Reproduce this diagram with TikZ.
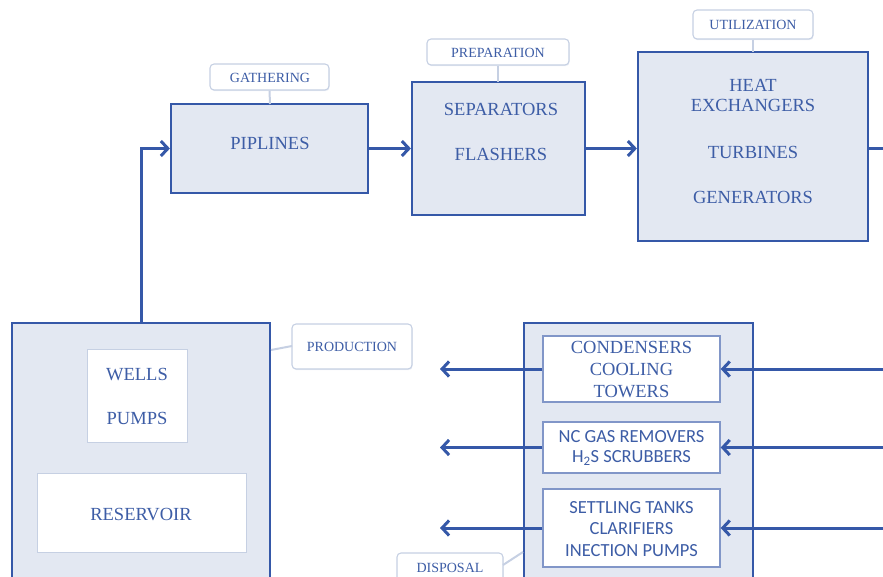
\documentclass[tikz,border=0pt]{standalone}
\usepackage{fontspec}
\setmainfont{Liberation Serif}
\newfontfamily\calib{Carlito}
\usetikzlibrary{arrows.meta,fit,shadows}
\definecolor{lc}{HTML}{3558A8}
\definecolor{fc}{HTML}{E3E8F2}
\definecolor{tc}{HTML}{3D5DA6}
\definecolor{tagc}{HTML}{C6D0E3}
\definecolor{ibc}{HTML}{8196C8}
\begin{document}
\begin{tikzpicture}[x=1pt,y=-1pt,
  box/.style={draw=lc,line width=2.2pt,fill=fc,inner sep=0pt,rectangle},
  wbox/.style={draw=tagc,line width=1pt,fill=white,inner sep=0pt,rectangle,
    drop shadow={shadow xshift=0.6pt,shadow yshift=-1.2pt,opacity=0.35,fill=tagc}},
  ibox/.style={draw=ibc,line width=1.4pt,fill=white,inner sep=0pt,rectangle},
  tagbox/.style={draw=tagc,line width=1.1pt,fill=white,rounded corners=4pt,inner sep=0pt,
    drop shadow={shadow xshift=0.6pt,shadow yshift=-1.2pt,opacity=0.35,fill=tagc}},
  tagtxt/.style={text=tc,font=\fontsize{14}{16}\selectfont,inner sep=0pt},
  lbl/.style={text=tc,font=\fontsize{18.5}{21}\selectfont,align=center,inner sep=0pt},
  slbl/.style={text=tc,align=center,inner sep=0pt},
  flow/.style={draw=lc,line width=3pt,-{Straight Barb[length=7pt,width=15pt,line width=3pt]}},
  plain/.style={draw=lc,line width=3pt},
  tagline/.style={draw=tagc,line width=2pt}]
\useasboundingbox (0,0) rectangle (883,577);
\clip (0,0) rectangle (883,577);

% main boxes
\node[box,fit={(171,104) (368,193)}] (pip) {};
\node[box,fit={(412,82) (585,215)}] (sep) {};
\node[box,fit={(638,52) (868,241)}] (util) {};
\node[box,fit={(12,323) (270,610)}] (prod) {};
\node[box,fit={(524,323) (753,610)}] (disp) {};

% tags
\node[tagbox,fit={(210,64) (329,90)}] (gat) {};
\node[tagtxt] (gatt) at (270,78) {GATHERING};
\node[tagbox,fit={(427,39) (569,65)}] (prep) {};
\node[tagtxt] (prept) at (498,53) {PREPARATION};
\node[tagbox,fit={(693,10) (813,39)}] (utag) {};
\node[tagtxt] (utagt) at (753,25) {UTILIZATION};
\node[tagbox,fit={(292,324) (412,369)}] (ptag) {};
\node[tagtxt] (ptagt) at (352,347) {PRODUCTION};
\node[tagbox,fit={(397,553) (503,600)}] (dtag) {};
\node[tagtxt] (dtagt) at (450,568) {DISPOSAL};

% tag connectors
\coordinate (gatb) at (270,104);
\draw[tagline] (gat.south) -- (gatb);
\coordinate (prepb) at (498,82);
\draw[tagline] (prep.south) -- (prepb);
\coordinate (utagb) at (753,52);
\draw[tagline] (utag.south) -- (utagb);
\coordinate (pc) at (271,350);
\coordinate (pt) at (292,346);
\draw[tagline] (pc) -- (pt);
\coordinate (dc) at (523,552);
\coordinate (dt) at (503,565);
\draw[tagline] (dt) -- (dc);

% texts in top boxes
\node[lbl] (pipt) at (270,143) {PIPLINES};
\node[lbl] (sept1) at (501,109) {SEPARATORS};
\node[lbl] (sept2) at (501,154) {FLASHERS};
\node[lbl] (ut1) at (753,85) {HEAT};
\node[lbl] (ut2) at (753,105) {EXCHANGERS};
\node[lbl] (ut3) at (753,152) {TURBINES};
\node[lbl] (ut4) at (753,197) {GENERATORS};

% production inner boxes
\node[wbox,fit={(87,349) (187,442)}] (wells) {};
\node[lbl] (wellst) at (137,375) {WELLS};
\node[lbl] (pumpst) at (137,418) {PUMPS};
\node[wbox,fit={(37,473) (246,552)}] (res) {};
\node[lbl] (rest) at (141,515) {RESERVOIR};

% disposal inner boxes
\node[ibox,fit={(543,336) (720,402)}] (d1) {};
\node[lbl,font=\fontsize{18.5}{22}\selectfont] (d1t) at (631.5,370) {CONDENSERS\\COOLING\\TOWERS};
\node[ibox,fit={(543,422) (720,473)}] (d2) {};
\node[slbl,font=\calib\fontsize{18.5}{20}\selectfont] (d2t) at (631.5,448) {NC GAS REMOVERS\\H\textsubscript{2}S SCRUBBERS};
\node[ibox,fit={(543,489) (720,567)}] (d3) {};
\node[slbl,font=\calib\fontsize{18.5}{21.5}\selectfont] (d3t) at (631.5,529) {SETTLING TANKS\\CLARIFIERS\\INECTION PUMPS};

% flows
\draw[flow] (prod.north) |- (pip.west);
\draw[flow] (pip.east) -- (sep.west);
\draw[flow] (sep.east) -- (sep.east -| util.west);
\coordinate (rt) at (883,149);
\draw[plain] (util.east |- rt) -- (rt);

\coordinate (l1) at (440,369);
\coordinate (l2) at (440,447.5);
\coordinate (l3) at (440,528);
\coordinate (r1) at (885,369);
\coordinate (r2) at (885,447.5);
\coordinate (r3) at (885,528);
\draw[flow] (d1.west) -- (l1);
\draw[flow] (d2.west) -- (l2);
\draw[flow] (d3.west) -- (l3);
\draw[flow] (r1) -- (d1.east);
\draw[flow] (r2) -- (d2.east);
\draw[flow] (r3) -- (d3.east);
\end{tikzpicture}
\end{document}
